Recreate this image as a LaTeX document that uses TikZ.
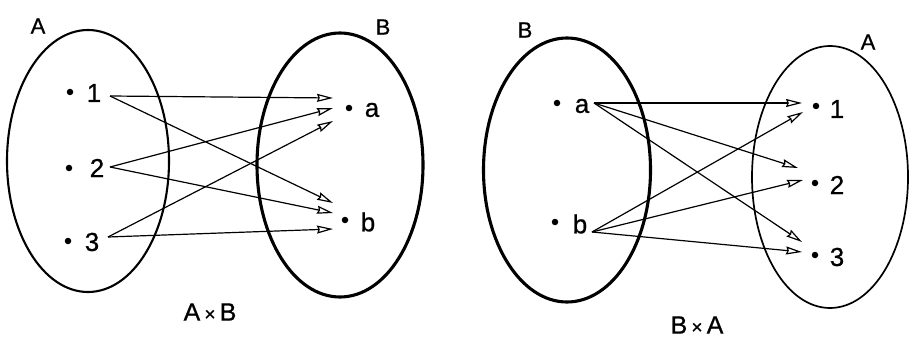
\documentclass[tikz,border=0pt]{standalone}
\usepackage{fontspec}
\setmainfont{Liberation Sans}
\newfontfamily\scanfont[FakeBold=0.8]{Liberation Sans}
\usetikzlibrary{shapes.geometric,arrows.meta}
\begin{document}
\begin{tikzpicture}[x=1pt,y=-1pt,
  setA/.style={ellipse,draw,line width=2.1pt,inner sep=0pt},
  setB/.style={ellipse,draw,line width=3.1pt,inner sep=0pt},
  pt/.style={circle,fill,inner sep=0pt,minimum size=6.5pt},
  lbl/.style={font=\scanfont\fontsize{26}{28}\selectfont,inner sep=0pt},
  setlbl/.style={font=\scanfont\fontsize{22}{24}\selectfont,inner sep=0pt},
  captext/.style={font=\scanfont\fontsize{25}{27}\selectfont,inner sep=0pt},
  map/.style={line width=1.2pt,-{Stealth[open,length=16pt,width=8pt,inset=1.5pt]}},
]
\useasboundingbox (0,0) rectangle (909,339);

% ---------- A x B ----------
\node[setA,minimum width=162pt,minimum height=262pt] (EA1) at (88,161) {};
\node[setB,minimum width=166pt,minimum height=264pt] (EB1) at (340,165) {};
\node[setlbl] (LA1) at (38,26) {A};
\node[setlbl] (LB1) at (383,27) {B};

\node[pt] (d11) at (70,92) {};  \node[lbl] (n11) at (94,93) {1};
\node[pt] (d12) at (69,168) {}; \node[lbl] (n12) at (97,168) {2};
\node[pt] (d13) at (68,241) {}; \node[lbl] (n13) at (92,242) {3};
\node[pt] (d1a) at (349,108) {}; \node[lbl] (n1a) at (372,110) {a};
\node[pt] (d1b) at (345,220) {}; \node[lbl] (n1b) at (368,222) {b};

\coordinate (s11) at (110,96);
\coordinate (s12) at (110,167);
\coordinate (s13) at (108,237);
\coordinate (e1a1) at (333,98);
\coordinate (e1a2) at (333,108);
\coordinate (e1a3) at (333,121);
\coordinate (e1b1) at (333,203);
\coordinate (e1b2) at (333,213);
\coordinate (e1b3) at (333,229);

\draw[map] (s11) -- (e1a1);
\draw[map] (s12) -- (e1a2);
\draw[map] (s13) -- (e1a3);
\draw[map] (s11) -- (e1b1);
\draw[map] (s12) -- (e1b2);
\draw[map] (s13) -- (e1b3);

\node[captext] (C1) at (210,312) {A\,{\fontsize{19}{21}\selectfont×}\,B};

% ---------- B x A ----------
\node[setB,minimum width=167pt,minimum height=264pt] (EB2) at (567,170) {};
\node[setA,line width=1.7pt,minimum width=156pt,minimum height=262pt] (EA2) at (830,177) {};
\node[setlbl] (LB2) at (525,30) {B};
\node[setlbl] (LA2) at (868,42) {A};

\node[pt] (d2a) at (557,103) {}; \node[lbl] (n2a) at (582,106) {a};
\node[pt] (d2b) at (555,222) {}; \node[lbl] (n2b) at (580,224) {b};
\node[pt] (d21) at (816,106) {}; \node[lbl] (n21) at (837,109) {1};
\node[pt] (d22) at (815,183) {}; \node[lbl] (n22) at (837,185) {2};
\node[pt] (d23) at (815,255) {}; \node[lbl] (n23) at (837,257) {3};

\coordinate (s2a) at (594,103);
\coordinate (s2b) at (592,232);
\coordinate (e211) at (802,103);
\coordinate (e212) at (803,112);
\coordinate (e221) at (798,168);
\coordinate (e222) at (803,180);
\coordinate (e231) at (802,242);
\coordinate (e232) at (802,252);

\draw[map] (s2a) -- (e211);
\draw[map] (s2b) -- (e212);
\draw[map] (s2a) -- (e221);
\draw[map] (s2b) -- (e222);
\draw[map] (s2a) -- (e231);
\draw[map] (s2b) -- (e232);

\node[captext] (C2) at (697,325) {B\,{\fontsize{19}{21}\selectfont×}\,A};
\end{tikzpicture}
\end{document}
